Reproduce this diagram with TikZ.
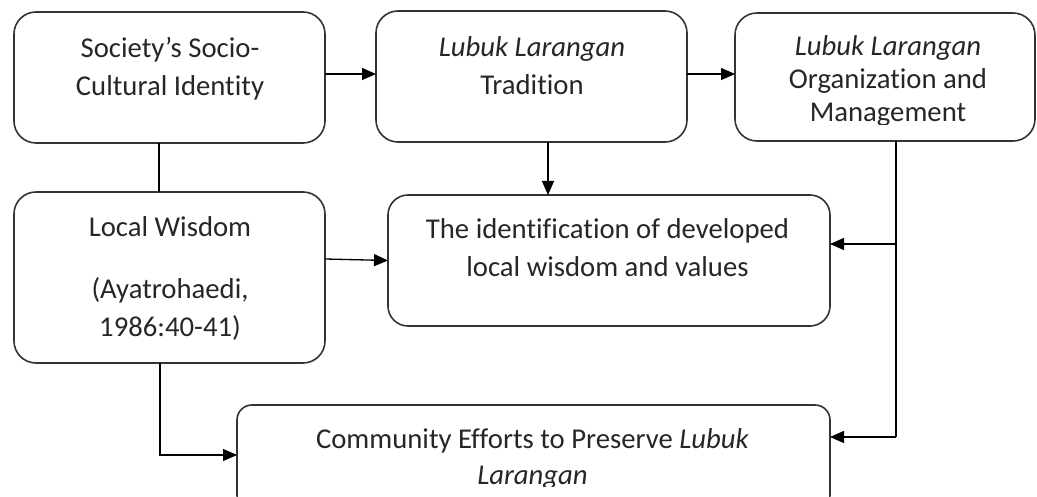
\documentclass[tikz,border=0pt]{standalone}
\usepackage{fontspec}
\setmainfont{Carlito}[Ligatures=NoCommon]
\usetikzlibrary{arrows.meta}
\tikzset{
  box/.style={draw=black!80, line width=1.6pt, rounded corners=22pt, inner sep=0pt, outer sep=0pt},
  txt/.style={align=center, font=\fontsize{28.7}{38}\selectfont, anchor=base, inner sep=0pt, text=black!85},
  arr/.style={-{Triangle[length=14pt,width=12pt]}, line width=1.3pt, draw=black},
  ln/.style={line width=1.3pt, draw=black},
}
\begin{document}
\begin{tikzpicture}[x=1pt,y=-1pt]
\useasboundingbox (0,0) rectangle (1037,497);
\clip (0,0) rectangle (1037,497);
% boxes
\node[box, minimum width=311pt, minimum height=131pt] (A) at (169.5,77.5) {};
\node[box, minimum width=311pt, minimum height=131pt] (B) at (531.5,76.5) {};
\node[box, minimum width=300pt, minimum height=128pt] (C) at (885,77) {};
\node[box, minimum width=311pt, minimum height=171pt] (D) at (169.5,277.5) {};
\node[box, rounded corners=20pt, minimum width=442pt, minimum height=131pt] (E) at (609,260.5) {};
\node[box, rounded corners=15pt, minimum width=593pt, minimum height=105pt] (F) at (533.5,457.5) {};
% texts (anchor base = baseline of the last line)
\node[txt] (tA) at (170,96) {Society’s Socio-\\Cultural Identity};
\node[txt] (tB) at (532,95) {\textit{Lubuk Larangan}\\Tradition};
\begin{scope}
\clip (735,0) rectangle (1037,124.5);
\node[txt, font=\fontsize{28.7}{33}\selectfont] (tC) at (888,122) {\textit{Lubuk Larangan}\\Organization and\\Management};
\end{scope}
\node[txt] (tD1) at (170,237) {Local Wisdom};
\node[txt] (tD2) at (170,337) {(Ayatrohaedi,\\1986:40-41)};
\node[txt] (tE) at (607.5,277) {The identification of developed\\local wisdom and values};
\begin{scope}
\clip (237,300) rectangle (830,486);
\node[txt, font=\fontsize{28.7}{36}\selectfont] (tF) at (532.5,484) {Community Efforts to Preserve \textit{Lubuk}\\\textit{Larangan}};
\end{scope}
% connectors
\coordinate (j1) at (896,244);
\coordinate (j2) at (896,437);
\coordinate (k) at (160,455);
\draw[arr] ([yshift=3.5pt]A.east) -- ([yshift=3.5pt]A.east -| B.west);
\draw[arr] ([yshift=2.5pt]B.east) -- ([yshift=2.5pt]B.east -| C.west);
\draw[ln] ([xshift=-10.5pt]A.south) -- ([xshift=-10.5pt]A.south |- D.north);
\draw[arr] ([xshift=16.5pt]B.south) -- ([xshift=16.5pt]B.south |- E.north);
\draw[arr] ([yshift=18.5pt]D.east) -- (E.west);
\draw[ln] (j1 |- C.south) -- (j2);
\draw[arr] (j1) -- (j1 -| E.east);
\draw[arr] (j2) -- (j2 -| F.east);
\draw[arr] (k |- D.south) -- (k) -- (k -| F.west);
\end{tikzpicture}
\end{document}
